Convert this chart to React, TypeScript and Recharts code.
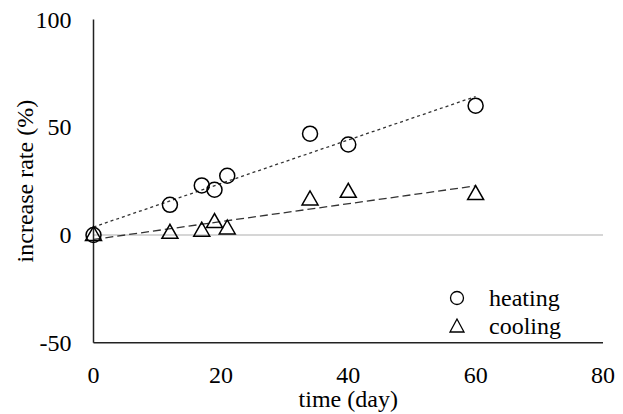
import { ComposedChart, Scatter, Line, XAxis, YAxis, ReferenceLine } from 'recharts'

const days = [0, 12, 17, 19, 21, 34, 40, 60]
const heating = [0, 14, 23, 21, 27.5, 47, 42, 60]
const cooling = [0, 1, 2, 6, 3, 16.5, 20, 19]
const xTicks = [0, 20, 40, 60, 80]
const yTicks = [-50, 0, 50, 100]

const FONT = "'Liberation Serif', 'Times New Roman', Times, serif"
const INK = '#000'
const txt = { fontFamily: FONT, fontSize: 24, fill: INK }

// least squares trend line over the measured span, like the spreadsheet fit
function trend(xs: number[], ys: number[]) {
  const n = xs.length
  const mx = xs.reduce((a, b) => a + b, 0) / n
  const my = ys.reduce((a, b) => a + b, 0) / n
  let sxy = 0
  let sxx = 0
  xs.forEach((x, i) => {
    sxy += (x - mx) * (ys[i] - my)
    sxx += (x - mx) * (x - mx)
  })
  const slope = sxy / sxx
  const icpt = my - slope * mx
  const lo = Math.min(...xs)
  const hi = Math.max(...xs)
  return [
    { x: lo, y: icpt + slope * lo },
    { x: hi, y: icpt + slope * hi },
  ]
}

const heatingPts = days.map((d, i) => ({ x: d, y: heating[i] }))
const coolingPts = days.map((d, i) => ({ x: d, y: cooling[i] }))
const heatingFit = trend(days, heating)
const coolingFit = trend(days, cooling)

const Circle = (p: any) => (
  <circle cx={p.cx} cy={p.cy} r={7.5} fill="none" stroke={INK} strokeWidth={1.5} />
)

const Triangle = (p: any) => (
  <polygon
    points={`${p.cx},${p.cy - 8.5} ${p.cx - 8},${p.cy + 5.5} ${p.cx + 8},${p.cy + 5.5}`}
    fill="none"
    stroke={INK}
    strokeWidth={1.5}
  />
)

const XTick = (p: any) => (
  <text x={p.x} y={p.y} dy={18} textAnchor="middle" style={txt}>
    {p.payload.value}
  </text>
)

const YTick = (p: any) => (
  <text x={p.x} y={p.y} dy={8} textAnchor="end" style={txt}>
    {p.payload.value}
  </text>
)

const YTitle = (p: any) => {
  const vb = p.viewBox
  const cx = vb.x + 33
  const cy = vb.y + vb.height / 2
  return (
    <text x={cx} y={cy} transform={`rotate(-90, ${cx}, ${cy})`} textAnchor="middle" style={txt}>
      increase rate (%)
    </text>
  )
}

const XTitle = (p: any) => {
  const vb = p.viewBox
  return (
    <text x={vb.x + vb.width / 2} y={407} textAnchor="middle" style={txt}>
      time (day)
    </text>
  )
}

// legend box in the lower right corner of the plot
const Key = () => (
  <g transform="translate(449, 288)">
    <circle cx={8} cy={10} r={6.5} fill="none" stroke={INK} strokeWidth={1.3} />
    <text x={40} y={18} style={txt}>heating</text>
    <polygon points="8,31 1,44 15,44" fill="none" stroke={INK} strokeWidth={1.3} />
    <text x={40} y={46} style={txt}>cooling</text>
  </g>
)

export default function App() {
  return (
    <div style={{ width: 623, height: 414, background: '#fff' }}>
      <style>{'body{margin:0}'}</style>
      <ComposedChart width={623} height={414} margin={{ top: 19.5, right: 20, left: 0, bottom: 0 }}>
        <XAxis
          xAxisId="b"
          dataKey="x"
          type="number"
          domain={[0, 80]}
          ticks={xTicks}
          height={71.3}
          axisLine={{ stroke: '#222', strokeWidth: 1.5 }}
          tickLine={false}
          tickSize={0}
          tickMargin={22}
          tick={<XTick />}
          label={<XTitle />}
        />
        <XAxis xAxisId="t" orientation="top" type="number" domain={[0, 80]} height={0} tick={false} tickLine={false} axisLine={{ stroke: '#222', strokeWidth: 1.5 }} />
        <YAxis
          yAxisId="l"
          type="number"
          domain={[-50, 100]}
          ticks={yTicks}
          width={93.5}
          axisLine={{ stroke: '#222', strokeWidth: 1.5 }}
          tickLine={false}
          tickSize={0}
          tickMargin={22}
          tick={<YTick />}
          label={<YTitle />}
        />
        <YAxis yAxisId="r" orientation="right" type="number" domain={[-50, 100]} width={0} tick={false} tickLine={false} axisLine={{ stroke: '#222', strokeWidth: 1.5 }} />
        <ReferenceLine xAxisId="b" yAxisId="l" y={0} stroke="#c8c8c8" strokeWidth={1.5} />
        <Line xAxisId="b" yAxisId="l" data={heatingFit} dataKey="y" stroke="#333" strokeWidth={1.3} strokeDasharray="3 3" dot={false} isAnimationActive={false} />
        <Line xAxisId="b" yAxisId="l" data={coolingFit} dataKey="y" stroke="#333" strokeWidth={1.3} strokeDasharray="8 4" dot={false} isAnimationActive={false} />
        <Scatter xAxisId="b" yAxisId="l" name="heating" data={heatingPts} dataKey="y" shape={<Circle />} isAnimationActive={false} />
        <Scatter xAxisId="b" yAxisId="l" name="cooling" data={coolingPts} dataKey="y" shape={<Triangle />} isAnimationActive={false} />
        <Key />
      </ComposedChart>
    </div>
  )
}
